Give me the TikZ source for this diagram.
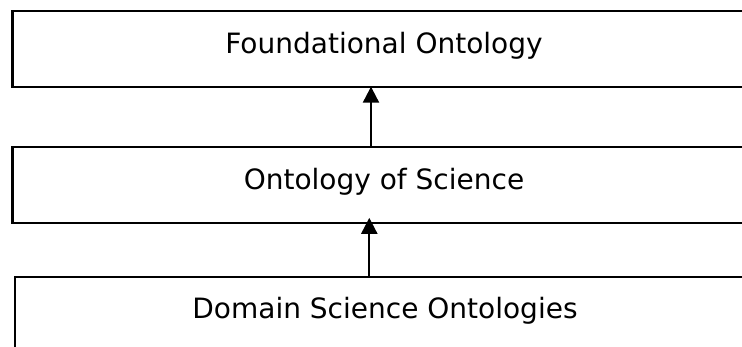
\documentclass[tikz,border=0pt]{standalone}
\usepackage{fontspec}
\setmainfont{DejaVu Sans}
\usetikzlibrary{arrows.meta}
\begin{document}
\begin{tikzpicture}[x=1pt,y=1pt,
  layerbox/.style={draw=black,line width=2.3pt,rectangle,inner sep=0pt,outer sep=0pt,fill=white},
  layertext/.style={anchor=base,inner sep=0pt,font=\fontsize{28}{32}\selectfont},
  uparrow/.style={line width=2.2pt,-{Triangle[width=16pt,length=16pt]}}]
\useasboundingbox (0,0) rectangle (742,347);
\fill[white] (0,0) rectangle (742,347);
\node[layerbox,minimum width=743.7pt,minimum height=75.7pt] (top) at (384.2,298.15) {};
\node[layerbox,minimum width=743.5pt,minimum height=76.5pt] (mid) at (384.2,162) {};
\node[layerbox,minimum width=742pt,minimum height=80pt] (bot) at (386,30) {};
\node[layertext] (toptext) at (384,293.7) {Foundational Ontology};
\node[layertext] (midtext) at (384,157) {Ontology of Science};
\node[layertext] (bottext) at (385,28.7) {Domain Science Ontologies};
\coordinate (a1) at (371,0);
\coordinate (a2) at (369.3,0);
\draw[uparrow] (mid.north -| a1) -- (top.south -| a1);
\draw[uparrow] (bot.north -| a2) -- ([yshift=5.4pt]mid.south -| a2);
\end{tikzpicture}
\end{document}
